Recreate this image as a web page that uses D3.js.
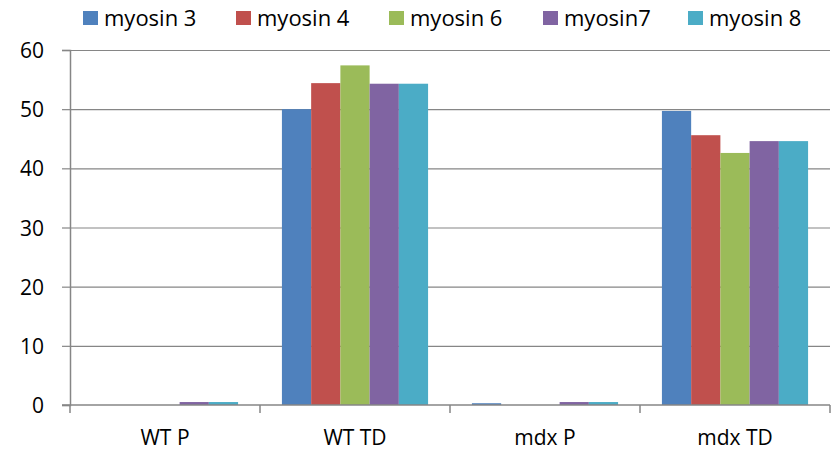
<!DOCTYPE html>
<html lang="en">
<head>
  <meta charset="UTF-8">
  <script src="https://cdn.jsdelivr.net/npm/d3@7"></script>
  <style>
    body { margin: 0; background: #fff; }
    text { font-family: "Open Sans", sans-serif; fill: #000; }
  </style>
  <title>myosin</title>
</head>
<body>
  <svg class="svg" width="834" height="452"></svg>
  <script>
    const categories = ["WT P", "WT TD", "mdx P", "mdx TD"]
    const seriesNames = ["myosin 3", "myosin 4", "myosin 6", "myosin7", "myosin 8"]
    const colors = ["#4F81BD", "#C0504D", "#9BBB59", "#8064A2", "#4BACC6"]
    // values per series, one per category
    const myosin3 = [0, 50.0, 0.3, 49.7]
    const myosin4 = [0, 54.4, 0, 45.6]
    const myosin6 = [0, 57.4, 0, 42.6]
    const myosin7 = [0.5, 54.3, 0.5, 44.6]
    const myosin8 = [0.5, 54.3, 0.5, 44.6]
    const yTicks = [0, 10, 20, 30, 40, 50, 60]

    const series = [myosin3, myosin4, myosin6, myosin7, myosin8]

    let svg = d3.select(".svg")
    let margin = {top: 50, right: 4, bottom: 47, left: 70}
    let width = +svg.attr("width")
    let height = +svg.attr("height")

    let x = d3.scaleBand()
      .domain(categories)
      .range([margin.left, width - margin.right])

    let xs = d3.scaleBand()
      .domain(d3.range(seriesNames.length))
      .range([0, x.bandwidth()])
      .paddingInner(0)
      .paddingOuter(0.75)

    let y = d3.scaleLinear()
      .domain([0, 60])
      .range([height - margin.bottom, margin.top])

    // gridlines
    svg.append("g")
      .selectAll("line")
      .data(yTicks.filter(d => d > 0))
      .join("line")
      .attr("x1", margin.left)
      .attr("x2", width - margin.right)
      .attr("y1", d => y(d) + 0.5)
      .attr("y2", d => y(d) + 0.5)
      .attr("stroke", "#868686")
      .attr("stroke-width", 1.2)

    // bars
    svg.append("g")
      .selectAll("g")
      .data(series)
      .join("g")
      .attr("fill", (d, i) => colors[i])
      .each(function (vals, si) {
        d3.select(this).selectAll("rect")
          .data(vals)
          .join("rect")
          .attr("x", (d, i) => x(categories[i]) + xs(si))
          .attr("width", xs.bandwidth())
          .attr("y", d => y(d))
          .attr("height", d => y(0) - y(d))
      })

    // y axis
    let yAxis = svg.append("g")
      .attr("transform", `translate(${margin.left},0)`)
      .call(d3.axisLeft(y).tickValues(yTicks).tickSize(8).tickPadding(18))
    yAxis.selectAll("line").attr("stroke", "#868686").attr("stroke-width", 1.2)
    yAxis.select(".domain").attr("stroke", "#868686").attr("stroke-width", 1.5)
    yAxis.selectAll("text").attr("font-size", 21).attr("fill", "#000").attr("dy", "0.36em")

    // x axis
    let xg = svg.append("g")
    xg.append("line")
      .attr("x1", margin.left - 8)
      .attr("x2", width - margin.right)
      .attr("y1", y(0))
      .attr("y2", y(0))
      .attr("stroke", "#868686")
      .attr("stroke-width", 1.5)
    xg.selectAll(".tk")
      .data(categories.concat(["end"]))
      .join("line")
      .attr("class", "tk")
      .attr("x1", (d, i) => i < categories.length ? x(d) : x(categories[i - 1]) + x.bandwidth())
      .attr("x2", (d, i) => i < categories.length ? x(d) : x(categories[i - 1]) + x.bandwidth())
      .attr("y1", y(0))
      .attr("y2", y(0) + 8)
      .attr("stroke", "#868686")
      .attr("stroke-width", 1.5)
    xg.selectAll("text")
      .data(categories)
      .join("text")
      .attr("x", d => x(d) + x.bandwidth() / 2)
      .attr("y", y(0) + 40)
      .attr("text-anchor", "middle")
      .attr("font-size", 21)
      .text(d => d)

    // legend
    const legendX = [83, 236, 389, 543, 688]
    let legend = svg.append("g")
      .selectAll("g")
      .data(seriesNames)
      .join("g")
      .attr("transform", (d, i) => `translate(${legendX[i]},11)`)
    legend.append("rect")
      .attr("width", 15)
      .attr("height", 14)
      .attr("fill", (d, i) => colors[i])
    legend.append("text")
      .attr("x", 21)
      .attr("y", 15)
      .attr("font-size", 22)
      .text(d => d)
  </script>
</body>
</html>
